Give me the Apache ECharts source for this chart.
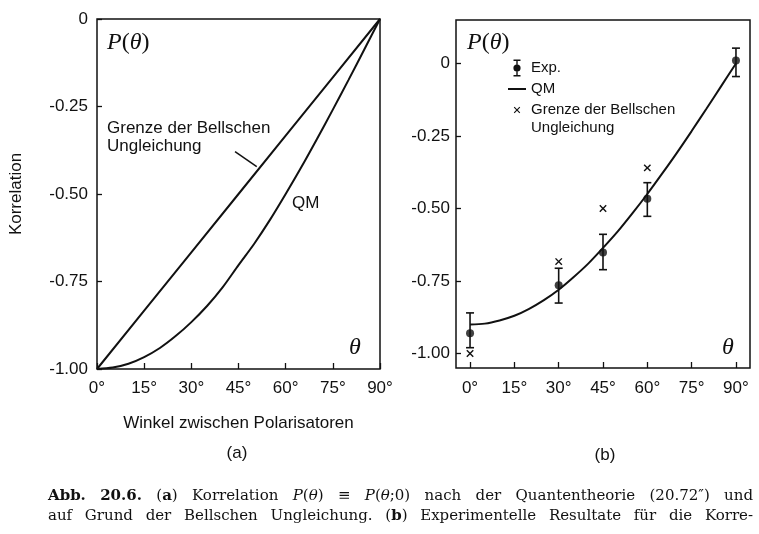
<!DOCTYPE html>
<html>
<head>
<meta charset="utf-8">
<script src="https://cdn.jsdelivr.net/npm/echarts@6/dist/echarts.min.js"></script>
<style>
  html, body { margin: 0; background: #fff; }
  #main { width: 759px; height: 534px; }
</style>
</head>
<body>
<div id="main"></div>
<script>
// Winkel in Grad (5°-Schritte) fuer die Theoriekurven
var ang5 = [0, 5, 10, 15, 20, 25, 30, 35, 40, 45, 50, 55, 60, 65, 70, 75, 80, 85, 90];

// (a) Theorie
var qmA = [-1.00, -0.996, -0.985, -0.966, -0.94, -0.906, -0.866, -0.82, -0.766, -0.703,
           -0.642, -0.574, -0.50, -0.423, -0.342, -0.259, -0.174, -0.087, 0];
var bellAngA = [0, 15, 30, 45, 60, 75, 90];
var bellA = [-1.00, -0.833, -0.667, -0.50, -0.333, -0.167, 0];

// (b) Messung
var angB = [0, 30, 45, 60, 90];
var expB = [-0.93, -0.765, -0.652, -0.466, 0.01];
var expLo = [-0.98, -0.826, -0.711, -0.527, -0.045];
var expHi = [-0.86, -0.706, -0.589, -0.411, 0.053];
var bellAngB = [0, 30, 45, 60];
var bellB = [-1.00, -0.683, -0.50, -0.36];
var qmB = [-0.90, -0.897, -0.886, -0.87, -0.846, -0.816, -0.78, -0.737, -0.69, -0.636,
           -0.579, -0.516, -0.45, -0.38, -0.308, -0.233, -0.156, -0.078, 0];

// Achsenbeschriftung
var xTicks = [0, 15, 30, 45, 60, 75, 90];
var yTicks = [-1, -0.75, -0.5, -0.25, 0];

var INK = '#111';
var SANS = '"Liberation Sans", Arial, sans-serif';
var SERIF = '"Liberation Serif", "Times New Roman", serif';
var CAPSERIF = '"DejaVu Serif", serif';

function pairs(xs, ys) {
  return xs.map(function (x, i) { return [x, ys[i]]; });
}
function yFmt(v) { return v === 0 ? '0' : v.toFixed(2); }
function xFmt(v) { return v + '°'; }

var labelStyle = { fontSize: 17, fontFamily: SANS, color: INK };
var tickStyle = { color: INK, width: 1.3 };
var noLine = { show: false, onZero: false };

// legend icons (18 wide, bbox forced with zero-length segments)
var iconExp = 'path://M0,0L0,0M18,18L18,18' +
  'M5.5,0.5H12.5V2H5.5Z M5.5,16H12.5V17.5H5.5Z' +
  'M8.3,2H9.7V5.6H8.3Z M8.3,12.4H9.7V16H8.3Z' +
  'M12.6,9A3.6,3.6,0,1,1,5.4,9A3.6,3.6,0,1,1,12.6,9Z';
var iconLine = 'path://M0,0L0,0M18,18L18,18M0,8H18V10H0Z';
var iconCross = 'path://M0,0L0,0M18,36L18,36' +
  'M5.8,6.6L6.6,5.8L9,8.2L11.4,5.8L12.2,6.6L9.8,9L12.2,11.4L11.4,12.2L9,9.8L6.6,12.2L5.8,11.4L8.2,9Z';

function errRender(params, api) {
  var x = api.value(0);
  var lo = api.coord([x, api.value(1)]);
  var hi = api.coord([x, api.value(2)]);
  var w = 4;
  var st = { stroke: INK, lineWidth: 1.6 };
  return {
    type: 'group',
    children: [
      { type: 'line', shape: { x1: lo[0], y1: lo[1], x2: hi[0], y2: hi[1] }, style: st },
      { type: 'line', shape: { x1: lo[0] - w, y1: lo[1], x2: lo[0] + w, y2: lo[1] }, style: st },
      { type: 'line', shape: { x1: hi[0] - w, y1: hi[1], x2: hi[0] + w, y2: hi[1] }, style: st }
    ]
  };
}

function crossRender(params, api) {
  var p = api.coord([api.value(0), api.value(1)]);
  var s = 3.2;
  var st = { stroke: INK, lineWidth: 1.4 };
  return {
    type: 'group',
    children: [
      { type: 'line', shape: { x1: p[0] - s, y1: p[1] - s, x2: p[0] + s, y2: p[1] + s }, style: st },
      { type: 'line', shape: { x1: p[0] - s, y1: p[1] + s, x2: p[0] + s, y2: p[1] - s }, style: st }
    ]
  };
}

// Bildunterschrift, Blocksatz
var capSize = 15;
var capX0 = 48, capX1 = 753;
var capLines = [
  { y: 496, words: [
    [['Abb.', 'b']], [['20.6.', 'b']], [['(', 'r'], ['a', 'b'], [')', 'r']], [['Korrelation', 'r']],
    [['P', 'i'], ['(', 'r'], ['θ', 'i'], [')', 'r']], [['≡', 'r']],
    [['P', 'i'], ['(', 'r'], ['θ', 'i'], [';0)', 'r']], [['nach', 'r']], [['der', 'r']],
    [['Quantentheorie', 'r']], [['(20.72″)', 'r']], [['und', 'r']]
  ] },
  { y: 516, words: [
    [['auf', 'r']], [['Grund', 'r']], [['der', 'r']], [['Bellschen', 'r']], [['Ungleichung.', 'r']],
    [['(', 'r'], ['b', 'b'], [')', 'r']], [['Experimentelle', 'r']], [['Resultate', 'r']],
    [['für', 'r']], [['die', 'r']], [['Korre-', 'r']]
  ] }
];
var capRich = {
  r: { fontFamily: CAPSERIF, fontSize: capSize, fill: INK },
  b: { fontFamily: CAPSERIF, fontSize: capSize, fontWeight: 'bold', fill: INK },
  i: { fontFamily: CAPSERIF, fontSize: capSize, fontStyle: 'italic', fill: INK }
};
var ctx = document.createElement('canvas').getContext('2d');
function segFont(k) {
  return (k === 'b' ? 'bold ' : k === 'i' ? 'italic ' : '') + capSize + 'px ' + CAPSERIF;
}
function wordWidth(word) {
  var w = 0;
  word.forEach(function (s) { ctx.font = segFont(s[1]); w += ctx.measureText(s[0]).width; });
  return w;
}
function toRich(word) {
  return word.map(function (s) { return '{' + s[1] + '|' + s[0] + '}'; }).join('');
}

var graphics = [];
capLines.forEach(function (line) {
  var widths = line.words.map(wordWidth);
  var total = widths.reduce(function (a, b) { return a + b; }, 0);
  var gap = (capX1 - capX0 - total) / (line.words.length - 1);
  var x = capX0;
  line.words.forEach(function (word, i) {
    graphics.push({
      type: 'text', x: x, y: line.y,
      style: { text: toRich(word), rich: capRich, verticalAlign: 'middle' }
    });
    x += widths[i] + gap;
  });
});

var mathRich = {
  r: { fontFamily: SERIF, fontSize: 24, fill: INK },
  i: { fontFamily: SERIF, fontSize: 24, fontStyle: 'italic', fill: INK }
};
function mathText(x, y, text, align) {
  return { type: 'text', x: x, y: y,
    style: { text: text, rich: mathRich, verticalAlign: 'middle', align: align || 'left' } };
}
function plainText(x, y, text, align) {
  return { type: 'text', x: x, y: y,
    style: { text: text, fontSize: 17, fontFamily: SANS, fill: INK, lineHeight: 18,
             verticalAlign: 'middle', align: align || 'left' } };
}

graphics.push(
  mathText(107, 43, '{i|P}{r|(}{i|θ}{r|)}'),
  mathText(355, 348, '{i|θ}', 'center'),
  mathText(467, 43, '{i|P}{r|(}{i|θ}{r|)}'),
  mathText(728, 348, '{i|θ}', 'center'),
  plainText(107, 137, 'Grenze der Bellschen\nUngleichung'),
  plainText(292, 203, 'QM'),
  plainText(237, 453, '(a)', 'center'),
  plainText(605, 455, '(b)', 'center')
);

var chart = echarts.init(document.getElementById('main'));
chart.setOption({
  animation: false,
  backgroundColor: '#fff',
  grid: [
    { left: 97, top: 19, width: 283, height: 350, show: true, borderColor: INK, borderWidth: 1.5 },
    { left: 456, top: 20, width: 294, height: 348, show: true, borderColor: INK, borderWidth: 1.5 }
  ],
  xAxis: [
    {
      gridIndex: 0, type: 'value', min: 0, max: 90, interval: 15,
      axisLine: noLine, splitLine: { show: false },
      axisTick: { inside: true, length: 6, lineStyle: tickStyle },
      axisLabel: Object.assign({ formatter: xFmt, margin: 11 }, labelStyle),
      name: 'Winkel zwischen Polarisatoren', nameLocation: 'middle', nameGap: 46,
      nameTextStyle: labelStyle
    },
    {
      gridIndex: 1, type: 'value', min: -4.75, max: 94.75,
      axisLine: noLine, splitLine: { show: false },
      axisTick: { inside: true, length: 6, lineStyle: tickStyle, customValues: xTicks },
      axisLabel: Object.assign({ formatter: xFmt, margin: 12, customValues: xTicks }, labelStyle)
    }
  ],
  yAxis: [
    {
      gridIndex: 0, type: 'value', min: -1, max: 0, interval: 0.25,
      axisLine: noLine, splitLine: { show: false },
      axisTick: { inside: true, length: 5, lineStyle: tickStyle },
      axisLabel: Object.assign({ formatter: yFmt, margin: 9 }, labelStyle),
      name: 'Korrelation', nameLocation: 'middle', nameGap: 72, nameRotate: 90,
      nameTextStyle: labelStyle
    },
    {
      gridIndex: 1, type: 'value', min: -1.05, max: 0.15,
      axisLine: noLine, splitLine: { show: false },
      axisTick: { inside: true, length: 5, lineStyle: tickStyle, customValues: yTicks },
      axisLabel: Object.assign({ formatter: yFmt, margin: 6, customValues: yTicks }, labelStyle)
    }
  ],
  legend: [
    {
      left: 508, top: 59, orient: 'vertical', padding: 0,
      itemWidth: 18, itemHeight: 18, itemGap: 3, itemTextGap: 8,
      textStyle: { fontSize: 15, fontFamily: SANS, color: INK },
      data: [
        { name: 'Exp.', icon: iconExp, itemStyle: { color: INK, borderWidth: 0 } },
        { name: 'QM', icon: iconLine, itemStyle: { color: INK, borderWidth: 0 } }
      ]
    },
    {
      left: 508, top: 101, orient: 'vertical', padding: 0,
      itemWidth: 18, itemHeight: 36, itemTextGap: 8,
      textStyle: { fontSize: 15, fontFamily: SANS, color: INK, lineHeight: 18 },
      formatter: function (n) { return n.replace(' Ungleichung', '\nUngleichung'); },
      data: [
        { name: 'Grenze der Bellschen Ungleichung', icon: iconCross, itemStyle: { color: INK, borderWidth: 0 } }
      ]
    }
  ],
  series: [
    {
      name: 'Bell (a)', type: 'line', xAxisIndex: 0, yAxisIndex: 0,
      data: pairs(bellAngA, bellA), showSymbol: false, symbol: 'none',
      lineStyle: { color: INK, width: 2 },
      markLine: {
        silent: true, symbol: ['none', 'none'], label: { show: false },
        lineStyle: { color: INK, width: 1.5, type: 'solid' },
        data: [[{ coord: [43.9, -0.379] }, { coord: [50.8, -0.422] }]]
      }
    },
    {
      name: 'QM (a)', type: 'line', xAxisIndex: 0, yAxisIndex: 0,
      data: pairs(ang5, qmA), symbol: 'none', smooth: 0.3,
      lineStyle: { color: INK, width: 2 }
    },
    {
      name: 'QM', type: 'line', xAxisIndex: 1, yAxisIndex: 1,
      data: pairs(ang5, qmB), symbol: 'none', smooth: 0.3,
      itemStyle: { color: INK },
      lineStyle: { color: INK, width: 2 }
    },
    {
      name: 'Exp.', type: 'custom', xAxisIndex: 1, yAxisIndex: 1,
      renderItem: errRender,
      encode: { x: 0, y: [1, 2] },
      itemStyle: { color: INK },
      data: angB.map(function (a, i) { return [a, expLo[i], expHi[i]]; })
    },
    {
      name: 'Exp.', type: 'scatter', xAxisIndex: 1, yAxisIndex: 1,
      data: pairs(angB, expB), symbol: 'circle', symbolSize: 8,
      itemStyle: { color: INK }
    },
    {
      name: 'Grenze der Bellschen Ungleichung', type: 'custom', xAxisIndex: 1, yAxisIndex: 1,
      renderItem: crossRender,
      encode: { x: 0, y: 1 },
      itemStyle: { color: INK },
      data: pairs(bellAngB, bellB)
    }
  ],
  graphic: graphics
});
</script>
</body>
</html>
